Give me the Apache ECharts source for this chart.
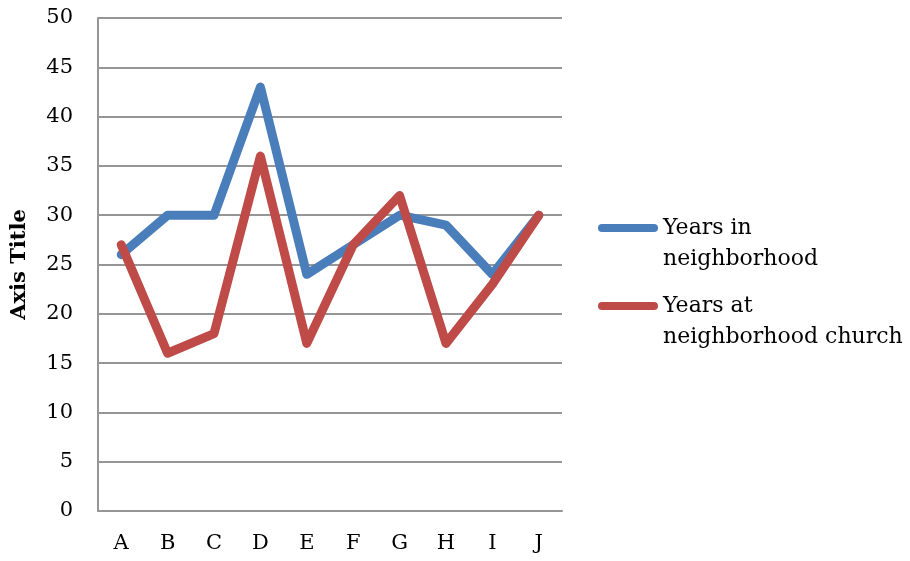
<!DOCTYPE html>
<html>
<head>
<meta charset="utf-8">
<script src="https://cdn.jsdelivr.net/npm/echarts@6/dist/echarts.min.js"></script>
<style>
  html, body { margin: 0; padding: 0; background: #fff; }
  #chart { width: 910px; height: 561px; }
</style>
</head>
<body>
<div id="chart"></div>
<script>
const categories = ['A', 'B', 'C', 'D', 'E', 'F', 'G', 'H', 'I', 'J'];
const seriesNames = ['Years in\nneighborhood', 'Years at\nneighborhood church'];
const yearsInNeighborhood = [26, 30, 30, 43, 24, 27, 30, 29, 24, 30];
const yearsAtChurch = [27, 16, 18, 36, 17, 27, 32, 17, 23, 30];
const yTitle = 'Axis Title';

const FONT = 'DejaVu Serif';
const colors = ['#4A7EBB', '#BE4B48'];
const GRID_COLOR = '#969696';
const LH = 31;
const pillIcon = 'path://M4,0 H56 A4,4 0 0 1 56,8 H4 A4,4 0 0 1 4,0 Z';

// One legend per series; a leading blank line keeps the icon level with the first text line.
function legendFor(name, iconY) {
  return {
    data: [name],
    left: 598,
    top: iconY - 1.5 * LH,
    orient: 'vertical',
    padding: 0,
    itemWidth: 60,
    itemHeight: 8,
    icon: pillIcon,
    selectedMode: false,
    formatter: n => '\n' + n,
    textStyle: {
      fontFamily: FONT,
      fontSize: 22,
      color: '#000',
      lineHeight: LH
    }
  };
}

const chart = echarts.init(document.getElementById('chart'));
chart.setOption({
  animation: false,
  color: colors,
  grid: { left: 98, right: 348, top: 18, bottom: 50, containLabel: false },
  legend: [legendFor(seriesNames[0], 228), legendFor(seriesNames[1], 306)],
  xAxis: {
    type: 'category',
    data: categories,
    boundaryGap: true,
    axisLine: { lineStyle: { color: GRID_COLOR, width: 2 } },
    axisTick: { show: false },
    axisLabel: { fontFamily: FONT, fontSize: 21, color: '#000', margin: 22 }
  },
  yAxis: {
    type: 'value',
    min: 0,
    max: 50,
    interval: 5,
    name: yTitle,
    nameLocation: 'middle',
    nameGap: 68,
    nameTextStyle: { fontFamily: FONT, fontSize: 21, fontWeight: 'bold', color: '#000' },
    axisLine: { show: true, lineStyle: { color: GRID_COLOR, width: 2 } },
    axisTick: { show: false },
    splitLine: { lineStyle: { color: GRID_COLOR, width: 2 } },
    axisLabel: { fontFamily: FONT, fontSize: 21, color: '#000', margin: 25 }
  },
  series: [
    {
      name: seriesNames[0],
      type: 'line',
      data: yearsInNeighborhood,
      symbol: 'none',
      lineStyle: { width: 9, color: colors[0], cap: 'round', join: 'round' }
    },
    {
      name: seriesNames[1],
      type: 'line',
      data: yearsAtChurch,
      symbol: 'none',
      lineStyle: { width: 9, color: colors[1], cap: 'round', join: 'round' }
    }
  ]
});
</script>
</body>
</html>
